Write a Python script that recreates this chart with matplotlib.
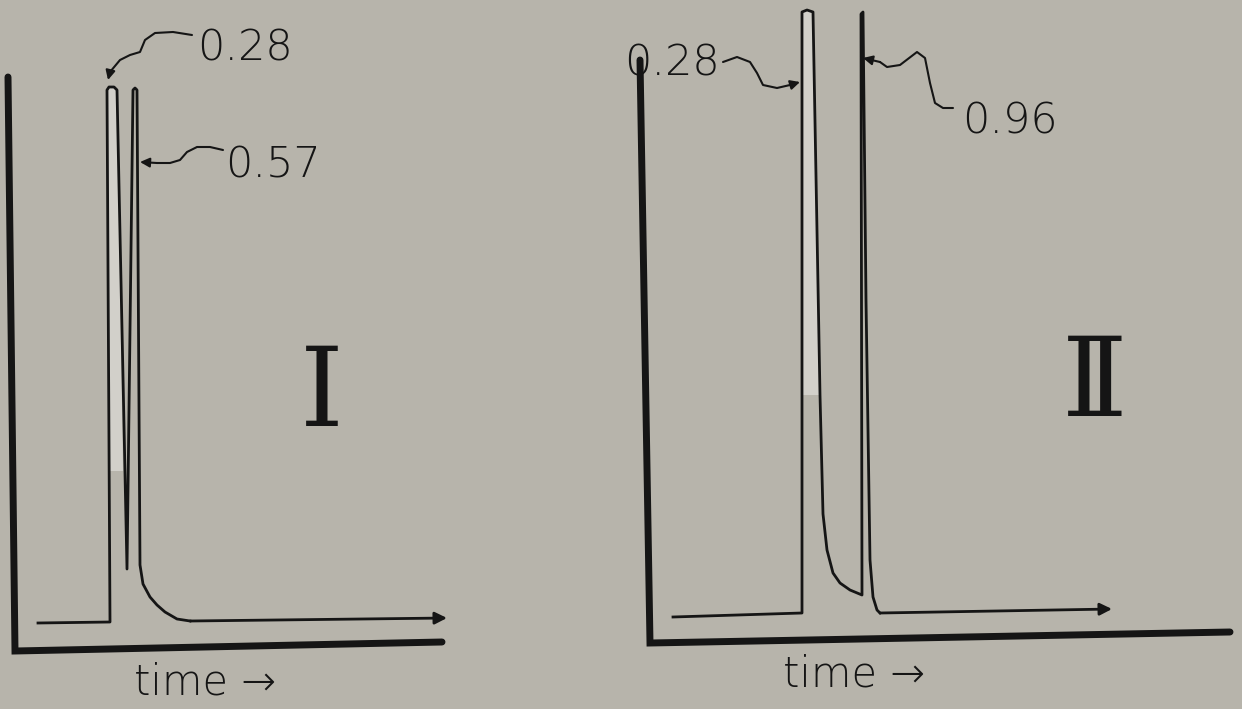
import numpy as np
import matplotlib.pyplot as plt

# traces: time / response in arbitrary units
# (origin = corner of each hand drawn frame)
t1 = [23, 95, 92, 94, 99, 102, 112, 118, 120, 122, 125, 128, 135, 142, 150, 162, 175, 432]
r1 = [28, 29, 561, 564, 564, 561, 82, 561, 563, 561, 86, 67, 54, 46, 39, 32, 30, 33]

t2 = [23, 152, 152, 157, 163, 170, 173, 177, 183, 190, 200, 212, 211, 213, 216, 220, 223, 227, 230, 462]
r2 = [26, 30, 631, 633, 631, 248, 129, 93, 70, 60, 53, 48, 629, 631, 343, 83, 46, 33, 30, 34]

# shaded inside of first peak
fill1_t = [93, 92, 94, 99, 102, 108, 97]
fill1_r = [180, 561, 564, 564, 561, 180, 180]
fill2_t = [153, 152, 157, 163, 170, 154]
fill2_r = [248, 631, 633, 631, 248, 248]

# frames (slightly skewed in the scan)
frame1_t = [-7, 0, 427]
frame1_r = [574, 0, 9]
frame2_t = [-10, 0, 580]
frame2_r = [583, 0, 11]

# peak labels and their leader lines
labels1 = ['0.28', '0.57']
label1_pos = [(230, 603), (258, 486)]
lead1 = [
    ([177, 158, 140, 130, 125, 115, 105, 95, 93], [616, 619, 618, 611, 599, 596, 591, 579, 571]),
    ([208, 195, 182, 172, 165, 155, 142, 125], [501, 504, 504, 499, 491, 488, 488, 489]),
]
labels2 = ['0.28', '0.96']
label2_pos = [(70, 580), (360, 522)]
lead2 = [
    ([73, 87, 100, 107, 113, 127, 140, 150], [581, 586, 581, 570, 558, 555, 558, 561]),
    ([303, 293, 285, 280, 275, 267, 250, 237, 230, 213], [535, 535, 540, 560, 585, 591, 578, 576, 581, 585]),
]

bg = '#b7b4ab'
ink = '#151515'
lab_font = dict(family=['DejaVu Sans'], weight='light', color=ink)

fig = plt.figure(figsize=(12.42, 7.09), dpi=100, facecolor=bg)
ax1 = fig.add_axes([0, 0, 0.5, 1])
ax2 = fig.add_axes([0.5, 0, 0.5, 1])
ax1.set_xlim(-15, 606)
ax1.set_ylim(-58, 651)
ax2.set_xlim(-29, 592)
ax2.set_ylim(-66, 643)


def leader(ax, tt, rr):
    ax.plot(tt[:-1], rr[:-1], color=ink, lw=1.5, solid_capstyle='round')
    ax.annotate('', xy=(tt[-1], rr[-1]), xytext=(tt[-2], rr[-2]),
                arrowprops=dict(arrowstyle='-|>', color=ink, lw=1.5,
                                mutation_scale=14, shrinkA=0, shrinkB=0))


panels = [
    (ax1, t1, r1, fill1_t, fill1_r, frame1_t, frame1_r, labels1, label1_pos, lead1, 'Ⅰ', (307, 255)),
    (ax2, t2, r2, fill2_t, fill2_r, frame2_t, frame2_r, labels2, label2_pos, lead2, 'Ⅱ', (445, 257)),
]

for i, (ax, t, r, ft, fr, bt, br, labs, lpos, leads, roman, rpos) in enumerate(panels):
    ax.axis('off')
    ax.fill(ft, fr, color='#d2d0ca', lw=0)
    ax.plot(bt, br, color=ink, lw=5, solid_capstyle='round', solid_joinstyle='miter')
    ax.plot(t[:-1], r[:-1], color=ink, lw=2, solid_joinstyle='round')
    ax.annotate('', xy=(t[-1], r[-1]), xytext=(t[-2], r[-2]),
                arrowprops=dict(arrowstyle='-|>', color=ink, lw=2,
                                mutation_scale=18, shrinkA=0, shrinkB=0))
    for j, lab in enumerate(labs):
        ha = 'right' if (i == 1 and j == 0) else 'center'
        ax.text(lpos[j][0], lpos[j][1], lab, fontsize=31, ha=ha, va='center', **lab_font)
        leader(ax, *leads[j])
    ax.text(190 + 14 * i, -31, 'time →', fontsize=30, ha='center', va='center', **lab_font)
    ax.text(rpos[0], rpos[1], roman, fontsize=80, ha='center', va='center',
            family=['DejaVu Serif'], color=ink)

fig.savefig('out.png', dpi=100, facecolor=bg)
